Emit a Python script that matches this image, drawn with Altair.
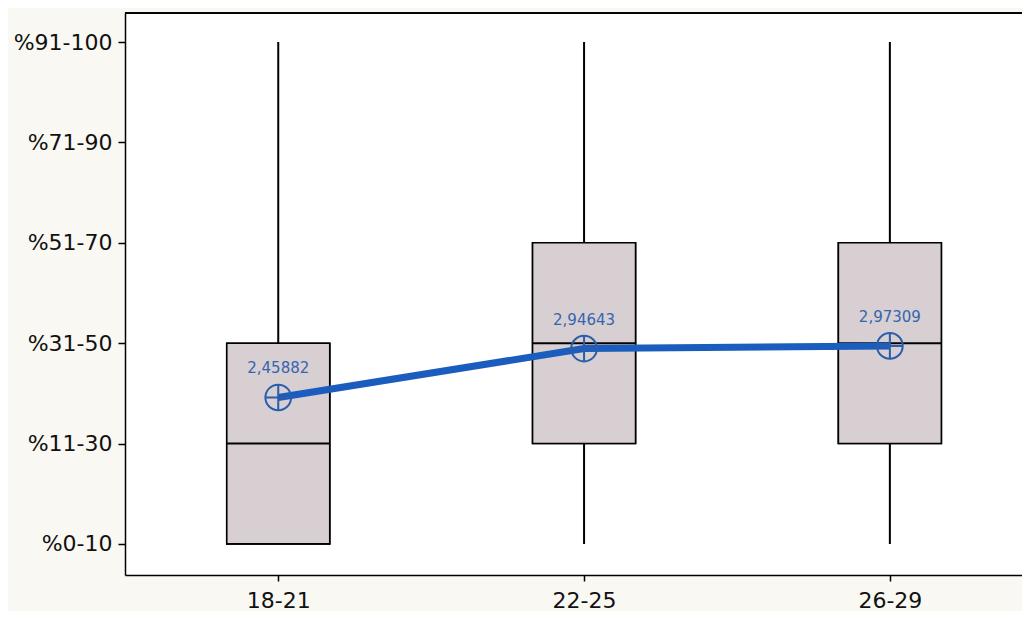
import json
import altair as alt
import pandas as pd

# ---- data ----
groups = ["18-21", "22-25", "26-29"]
whisker_low = [1, 1, 1]
q1 = [1, 2, 2]
median = [2, 3, 3]
q3 = [3, 4, 4]
whisker_high = [6, 6, 6]
means = [2.45882, 2.94643, 2.97309]
mean_labels = ["2,45882", "2,94643", "2,97309"]
level_values = [1, 2, 3, 4, 5, 6]
level_labels = ["%0-10", "%11-30", "%31-50", "%51-70", "%71-90", "%91-100"]

df = pd.DataFrame({
    "group": groups, "lo": whisker_low, "q1": q1, "med": median,
    "q3": q3, "hi": whisker_high, "mean": means, "mlabel": mean_labels,
})

W, H = 897, 562
FONT = "DejaVu Sans"
BLUE_LINE = "#1b5cbf"
BLUE_MARK = "#2a5dab"
BLUE_TEXT = "#3565b0"

label_map = json.dumps({str(v): l for v, l in zip(level_values, level_labels)})

x_enc = alt.X("group:N", sort=groups, title=None,
              scale=alt.Scale(type="point", padding=0.4666, align=0.537),
              axis=alt.Axis(labelAngle=0, labelFont=FONT, labelFontSize=22,
                            labelColor="#111", tickColor="black", tickSize=6,
                            tickWidth=1.5, domainColor="black", domainWidth=1.5,
                            labelPadding=9, grid=False))
y_scale = alt.Scale(domain=[0.69, 6.29], nice=False, zero=False)
y_axis = alt.Axis(values=level_values, labelExpr=f"{label_map}[''+datum.value]",
                  labelFont=FONT, labelFontSize=22, labelColor="#111",
                  tickColor="black", tickSize=7, tickWidth=1.5,
                  domainColor="black", domainWidth=1.5, labelPadding=6,
                  grid=False)

base = alt.Chart(df)

whisk = base.mark_rule(color="black", strokeWidth=2).encode(
    x=x_enc, y=alt.Y("lo:Q", scale=y_scale, axis=y_axis, title=None), y2="hi:Q")
box = base.mark_bar(size=103, fill="#d7cfd2", stroke="black", strokeWidth=1.6).encode(
    x=x_enc, y=alt.Y("q1:Q", scale=y_scale), y2="q3:Q")
med = base.mark_tick(color="black", thickness=2, size=103, orient="horizontal",
                     opacity=1).encode(
    x=x_enc, y=alt.Y("med:Q", scale=y_scale))
line = base.mark_line(color=BLUE_LINE, strokeWidth=7).encode(
    x=x_enc, y=alt.Y("mean:Q", scale=y_scale))
circ = base.mark_point(shape="circle", size=660, color=BLUE_MARK, strokeWidth=2,
                       filled=False, opacity=1).encode(
    x=x_enc, y=alt.Y("mean:Q", scale=y_scale))
cross = base.mark_point(shape="M-1,0H1M0,-1V1", size=660, color=BLUE_MARK,
                        strokeWidth=2, filled=False, opacity=1).encode(
    x=x_enc, y=alt.Y("mean:Q", scale=y_scale))
txt = base.mark_text(font=FONT, fontSize=15, color=BLUE_TEXT, dy=-29,
                     baseline="middle").encode(
    x=x_enc, y=alt.Y("mean:Q", scale=y_scale), text="mlabel:N")
top = base.mark_rule(color="black", strokeWidth=1.5).encode(
    x=alt.value(0), x2=alt.value(W), y=alt.value(0))

chart = alt.layer(box, whisk, box, med, line, circ, cross, txt, top).properties(
    width=W, height=H,
    autosize=alt.AutoSizeParams(type="none"),
    padding={"left": 117, "top": 5, "right": 0, "bottom": 36},
    background="#f9f8f3",
).configure_view(stroke=None, fill="white")

chart.save("out.html", embed_options={"renderer": "svg", "actions": False})
